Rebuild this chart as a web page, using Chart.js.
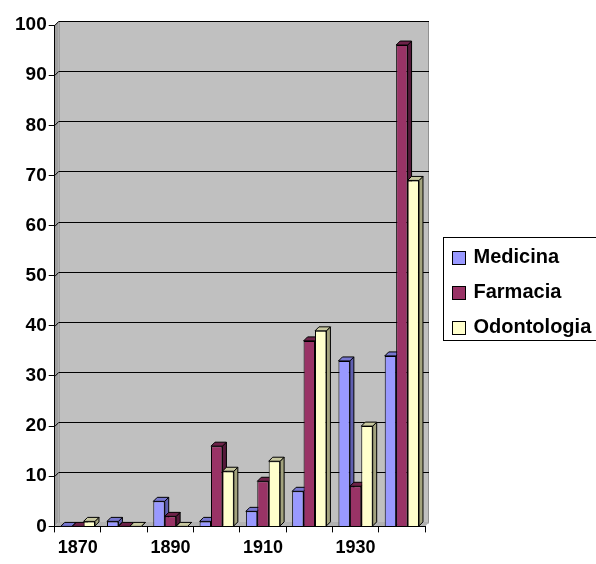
<!DOCTYPE html>
<html lang="es">
<head>
    <meta charset="UTF-8">
    <title>Medicina, Farmacia, Odontologia</title>
    <style>
        body {
            margin: 0;
            background-color: #fff;
        }
        canvas {
            display: block;
        }
    </style>
</head>
<body>
<canvas id="chart" width="596" height="564"></canvas>

<script src="https://cdn.jsdelivr.net/npm/chart.js"></script>
<script>
    // data
    const years = ['1870', '1880', '1890', '1900', '1910', '1920', '1930', '1940'];
    const medicina = [0, 1, 5, 1, 3, 7, 33, 34];
    const farmacia = [0, 0, 2, 16, 9, 37, 8, 96];
    const odontologia = [1, 0, 0, 11, 13, 39, 20, 69];
    const yTicks = [0, 10, 20, 30, 40, 50, 60, 70, 80, 90, 100];

    const fontFamily = '"Liberation Sans", Arial, sans-serif';
    const depth = 4;

    // front / side / top colours of each series
    const shades = [
        { front: '#9999FF', side: '#5f5fb0', top: '#7777d0' },
        { front: '#993366', side: '#55193a', top: '#6e2249' },
        { front: '#FFFFCC', side: '#a3a37e', top: '#c8c8a0' }
    ];

    // back wall, side wall, floor and gridlines
    const wallPlugin = {
        id: 'wall',
        beforeDraw(chart) {
            const ctx = chart.ctx;
            const a = chart.chartArea;
            const y = chart.scales.y;
            ctx.save();
            // side wall
            ctx.fillStyle = '#a0a0a0';
            ctx.beginPath();
            ctx.moveTo(a.left, a.top);
            ctx.lineTo(a.left + depth, a.top - depth);
            ctx.lineTo(a.left + depth, a.bottom - depth);
            ctx.lineTo(a.left, a.bottom);
            ctx.closePath();
            ctx.fill();
            // back wall
            ctx.fillStyle = '#c0c0c0';
            ctx.fillRect(a.left + depth, a.top - depth, a.right - a.left, a.bottom - a.top);
            ctx.strokeStyle = '#909090';
            ctx.lineWidth = 1;
            ctx.strokeRect(a.left + depth + 0.5, a.top - depth + 0.5, a.right - a.left - 1, a.bottom - a.top);
            // floor
            ctx.fillStyle = '#b2b2b2';
            ctx.beginPath();
            ctx.moveTo(a.left, a.bottom);
            ctx.lineTo(a.left + depth, a.bottom - depth);
            ctx.lineTo(a.right + depth, a.bottom - depth);
            ctx.lineTo(a.right, a.bottom);
            ctx.closePath();
            ctx.fill();
            // gridlines
            ctx.strokeStyle = '#000';
            yTicks.forEach(v => {
                if (v === 0) return;
                const py = Math.round(y.getPixelForValue(v)) + 0.5;
                ctx.beginPath();
                ctx.moveTo(a.left, py);
                ctx.lineTo(a.left + depth, py - depth);
                ctx.lineTo(a.right + depth, py - depth);
                ctx.stroke();
            });
            ctx.restore();
        },
        // legend box on the right, from the dataset labels and colours
        afterDraw(chart) {
            const ctx = chart.ctx;
            const a = chart.chartArea;
            const left = Math.round(a.right) + 18.5;
            const top = 237.5;
            const rowH = 35;
            ctx.save();
            ctx.strokeStyle = '#000';
            ctx.lineWidth = 1;
            ctx.strokeRect(left, top, 200, rowH * chart.data.datasets.length - 2);
            ctx.font = 'bold 20px ' + fontFamily;
            ctx.textBaseline = 'middle';
            chart.data.datasets.forEach((ds, i) => {
                const cy = top + 20 + i * rowH;
                ctx.fillStyle = ds.backgroundColor;
                ctx.fillRect(left + 9, Math.round(cy - 7), 13, 13);
                ctx.strokeRect(left + 9, Math.round(cy - 7) + 0.5, 13, 13);
                ctx.fillStyle = '#000';
                ctx.fillText(ds.label, left + 30, cy);
            });
            ctx.restore();
        }
    };

    // side and top faces of the columns, drawn before the fronts
    const depthPlugin = {
        id: 'depth',
        beforeDatasetsDraw(chart) {
            const ctx = chart.ctx;
            ctx.save();
            ctx.strokeStyle = '#000';
            ctx.lineWidth = 1;
            chart.data.datasets.forEach((ds, i) => {
                chart.getDatasetMeta(i).data.forEach(bar => {
                    const l = bar.x - bar.width / 2;
                    const r = bar.x + bar.width / 2;
                    const t = bar.y;
                    const b = bar.base;
                    ctx.fillStyle = shades[i].side;
                    ctx.beginPath();
                    ctx.moveTo(r, t);
                    ctx.lineTo(r + depth, t - depth);
                    ctx.lineTo(r + depth, b - depth);
                    ctx.lineTo(r, b);
                    ctx.closePath();
                    ctx.fill();
                    ctx.stroke();
                    ctx.fillStyle = shades[i].top;
                    ctx.beginPath();
                    ctx.moveTo(l, t);
                    ctx.lineTo(l + depth, t - depth);
                    ctx.lineTo(r + depth, t - depth);
                    ctx.lineTo(r, t);
                    ctx.closePath();
                    ctx.fill();
                    ctx.stroke();
                });
            });
            ctx.restore();
        }
    };

    new Chart(document.getElementById('chart').getContext('2d'), {
        type: 'bar',
        data: {
            labels: years,
            datasets: [{
                label: 'Medicina',
                data: medicina,
                backgroundColor: shades[0].front,
                borderColor: '#000',
                borderWidth: 1
            }, {
                label: 'Farmacia',
                data: farmacia,
                backgroundColor: shades[1].front,
                borderColor: '#000',
                borderWidth: 1
            }, {
                label: 'Odontologia',
                data: odontologia,
                backgroundColor: shades[2].front,
                borderColor: '#000',
                borderWidth: 1
            }]
        },
        options: {
            responsive: false,
            animation: false,
            devicePixelRatio: 1,
            categoryPercentage: 0.74,
            barPercentage: 1,
            layout: {
                padding: { left: 13, top: 25, right: 171, bottom: 0 }
            },
            plugins: {
                tooltip: { enabled: false },
                legend: { display: false }
            },
            scales: {
                x: {
                    grid: { drawOnChartArea: false, color: '#000', tickLength: 6 },
                    border: { color: '#000' },
                    ticks: {
                        autoSkip: false,
                        maxRotation: 0,
                        padding: 5,
                        color: '#000',
                        font: { family: fontFamily, size: 18, weight: 'bold' },
                        callback: (v, i) => (i % 2 === 0 ? years[i] : '')
                    }
                },
                y: {
                    min: 0,
                    max: 100,
                    afterBuildTicks: scale => {
                        scale.ticks = yTicks.map(v => ({ value: v }));
                    },
                    grid: { drawOnChartArea: false, color: '#000', tickLength: 6 },
                    border: { color: '#000' },
                    ticks: {
                        color: '#000',
                        font: { family: fontFamily, size: 19, weight: 'bold' },
                        padding: 2
                    }
                }
            }
        },
        plugins: [wallPlugin, depthPlugin]
    });
</script>
</body>
</html>
